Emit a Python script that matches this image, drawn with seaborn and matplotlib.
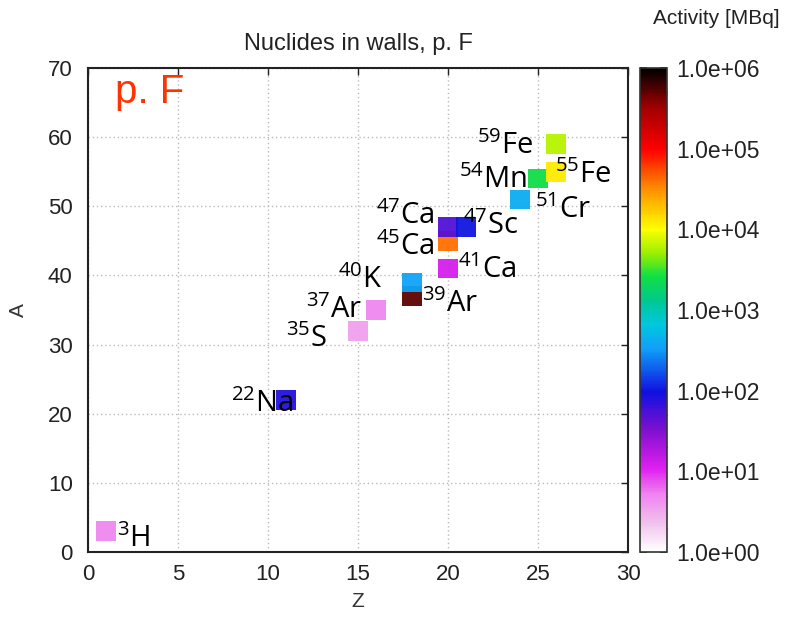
import numpy as np
import pandas as pd
import matplotlib
matplotlib.use("Agg")
import matplotlib.pyplot as plt
import seaborn as sns
from matplotlib.colors import LinearSegmentedColormap, LogNorm
from matplotlib.cm import ScalarMappable
from matplotlib.ticker import LogLocator

# ---- data ----
nuclides = ["3H", "22Na", "35S", "37Ar", "39Ar", "40K", "41Ca", "45Ca",
            "47Ca", "47Sc", "51Cr", "54Mn", "55Fe", "59Fe"]
mass_labels = ["3", "22", "35", "37", "39", "40", "41", "45",
               "47", "47", "51", "54", "55", "59"]
element_labels = ["H", "Na", "S", "Ar", "Ar", "K", "Ca", "Ca",
                  "Ca", "Sc", "Cr", "Mn", "Fe", "Fe"]
Z_values = [1, 11, 15, 16, 18, 18, 20, 20, 20, 21, 24, 25, 26, 26]
A_values = [3, 22, 32, 35, 37, 39, 41, 45, 47, 47, 51, 54, 55, 59]
activity = [5, 80, 3.5, 5, 5e5, 350, 12, 4e4, 50, 100, 400, 2500, 1.2e4, 6000]
cbar_ticks = [1e0, 1e1, 1e2, 1e3, 1e4, 1e5, 1e6]
cbar_ticklabels = ["1.0e+00", "1.0e+01", "1.0e+02", "1.0e+03",
                   "1.0e+04", "1.0e+05", "1.0e+06"]

# label placement (layout): offset of text baseline anchor from the point, alignment
label_layout = {
    "3H": (0.59, -2.23, "left"), "22Na": (0.41, -1.7, "right"),
    "35S": (-1.74, -2.3, "right"), "37Ar": (-0.76, -1.1, "right"),
    "39Ar": (0.54, -2.22, "left"), "40K": (-1.63, -0.85, "right"),
    "41Ca": (0.54, -1.4, "left"), "45Ca": (-0.72, -2.1, "right"),
    "47Ca": (-0.72, 0.5, "right"), "47Sc": (-0.15, -1.0, "left"),
    "51Cr": (0.83, -2.7, "left"), "54Mn": (-0.63, -1.4, "right"),
    "55Fe": (-0.06, -1.65, "left"), "59Fe": (-1.26, -1.4, "right"),
}

df = pd.DataFrame({"nuclide": nuclides, "Z": Z_values, "A": A_values,
                   "activity": activity})

# gnuplot-like palette
cmap = LinearSegmentedColormap.from_list("act", [
    (0.00, "#ffffff"), (0.06, "#f0c0ec"), (0.12, "#f080f0"),
    (0.17, "#e020f0"), (0.25, "#8010d0"), (0.33, "#1010e0"),
    (0.42, "#10a0f8"), (0.47, "#00c8e0"), (0.52, "#00c890"),
    (0.57, "#10e040"), (0.62, "#a0f000"), (0.667, "#ffff00"),
    (0.75, "#ff9000"), (0.833, "#ff0000"), (0.92, "#a00000"),
    (1.00, "#000000")])
norm = LogNorm(vmin=1, vmax=1e6)

sns.set_theme(style="white")
plt.rcParams["font.family"] = ["Liberation Sans", "DejaVu Sans"]
plt.rcParams["mathtext.fontset"] = "custom"
plt.rcParams["mathtext.rm"] = "Open Sans"

fig = plt.figure(figsize=(7.95, 6.3), dpi=100)
ax = fig.add_axes([88/795, 1-552/630, 540/795, 484/630])
cax = fig.add_axes([640/795, 1-552/630, 27/795, 484/630])

sns.scatterplot(data=df, x="Z", y="A", hue="activity", hue_norm=norm,
                palette=cmap, marker="s", s=200, linewidth=0, alpha=0.95,
                legend=False, ax=ax, zorder=3)

for nm, m, el, z, a in zip(nuclides, mass_labels, element_labels, Z_values, A_values):
    dx, dy, ha = label_layout[nm]
    ax.text(z + dx, a + dy, r"$^{\mathregular{%s}}$%s" % (m, el), ha=ha,
            va="baseline", fontsize=21, family="Open Sans", color="black",
            zorder=4)

ax.set_xlim(0, 30)
ax.set_ylim(0, 70)
ax.set_xticks(range(0, 31, 5))
ax.set_yticks(range(0, 71, 10))
ax.grid(True, color="#bbbbbb", linestyle=(0, (1, 2)), linewidth=1)
ax.tick_params(direction="in", length=5, width=1, top=True, right=True,
               labelsize=16, colors="#222222")
ax.tick_params(axis="x", pad=9)
ax.tick_params(axis="y", pad=11)
for sp in ax.spines.values():
    sp.set_visible(True)
    sp.set_color("#222222")
    sp.set_linewidth(1.5)
ax.set_xlabel("Z", fontsize=15, color="#333333", labelpad=5)
ax.set_ylabel("A", fontsize=15, color="#333333", labelpad=14)
ax.set_title("Nuclides in walls, p. F", fontsize=17, color="#222222", pad=13)
ax.text(0.05, 0.928, "p. F", transform=ax.transAxes, ha="left", va="baseline",
        fontsize=29, color="#ff3300")

sm = ScalarMappable(norm=norm, cmap=cmap)
cb = fig.colorbar(sm, cax=cax)
cb.set_ticks(cbar_ticks)
cb.set_ticklabels(cbar_ticklabels)
cb.ax.yaxis.set_minor_locator(LogLocator(base=10, subs=(2, 5), numticks=20))
cb.ax.tick_params(which="both", direction="in", left=True, right=True,
                  labelsize=16.5, colors="#222222", length=5, pad=7)
cb.ax.tick_params(which="minor", length=3)
cb.outline.set_linewidth(1.2)
cb.outline.set_edgecolor("#333333")
fig.text(716/795, 1-18/630, "Activity [MBq]", ha="center", va="center",
         fontsize=15, color="#222222")

fig.savefig("out.png", dpi=100)
